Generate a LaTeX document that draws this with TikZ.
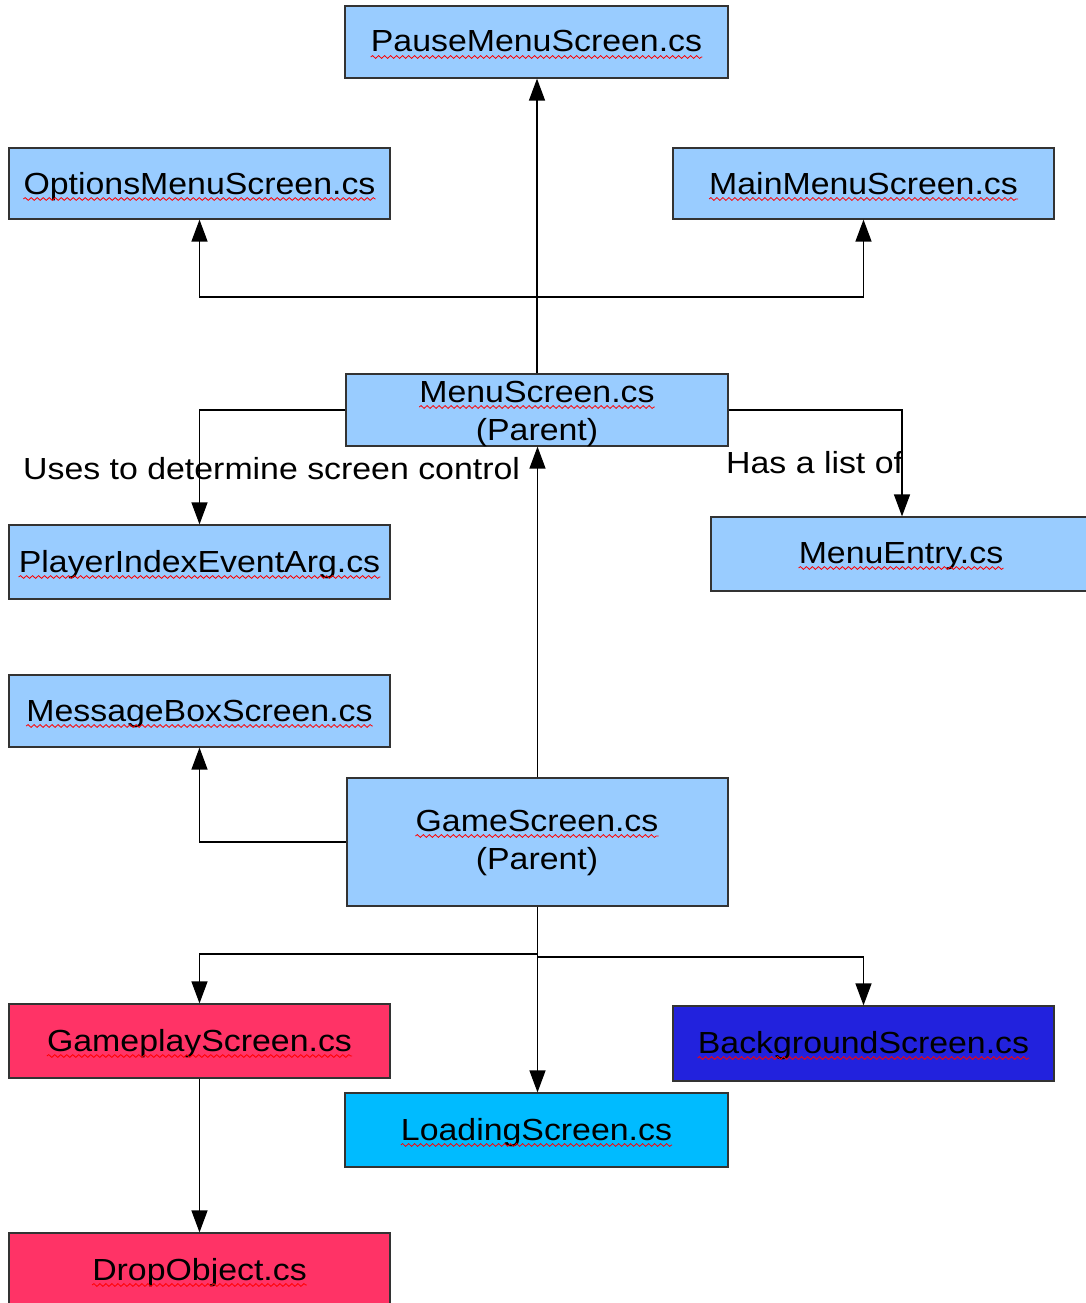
\documentclass[tikz,border=0pt]{standalone}
\usepackage{fontspec}
\setmainfont{Liberation Sans}[FakeStretch=1.11]
\usetikzlibrary{arrows.meta,decorations.pathmorphing}
\definecolor{lblue}{HTML}{99CCFF}
\definecolor{pinkred}{HTML}{FF3366}
\definecolor{dblue}{HTML}{2222DD}
\definecolor{cyanb}{HTML}{00BBFF}
\definecolor{edge}{HTML}{333333}
\tikzset{
  box/.style={draw=edge, line width=1.2pt, inner sep=0pt, fill=lblue},
  txt/.style={inner sep=0pt, anchor=base, font=\fontsize{30.5}{38}\selectfont},
  lbltxt/.style={inner sep=0pt, anchor=base west, font=\fontsize{30.5}{38}\selectfont},
  squig/.style={draw=red, line width=0.8pt, decorate, decoration={snake, segment length=6pt, amplitude=1.4pt}},
  arr/.style={draw=black, line width=1.3pt, -{Triangle[length=22pt,width=16pt]}},
  ln/.style={draw=black, line width=1.3pt}
}
\newcommand{\squnder}[1]{\draw[squig] ([yshift=-5pt]#1.base west) -- ([yshift=-5pt]#1.base east);}
\begin{document}
\begin{tikzpicture}[x=1pt,y=-1pt]
\useasboundingbox (0,0) rectangle (1086,1303);
\clip (0,0) rectangle (1086,1303);
\fill[white] (0,0) rectangle (1086,1303);
% boxes
\node[box, minimum width=383pt, minimum height=72pt] (pm) at (536.5,42) {};
\node[box, minimum width=381pt, minimum height=71pt] (om) at (199.5,183.5) {};
\node[box, minimum width=381pt, minimum height=71pt] (mm) at (863.5,183.5) {};
\node[box, minimum width=382pt, minimum height=72pt] (ms) at (537,410) {};
\node[box, minimum width=381pt, minimum height=74pt] (pi) at (199.5,562) {};
\node[box, minimum width=382pt, minimum height=74pt] (me) at (902,554) {};
\node[box, minimum width=381pt, minimum height=72pt] (mb) at (199.5,711) {};
\node[box, minimum width=381pt, minimum height=128pt] (gs) at (537.5,842) {};
\node[box, fill=pinkred, minimum width=381pt, minimum height=74pt] (gp) at (199.5,1041) {};
\node[box, fill=dblue, minimum width=381pt, minimum height=75pt] (bg) at (863.5,1043.5) {};
\node[box, fill=cyanb, minimum width=383pt, minimum height=74pt] (ls) at (536.5,1130) {};
\node[box, fill=pinkred, minimum width=381pt, minimum height=74pt] (dobj) at (199.5,1270) {};
% texts
\node[txt] (pmT) at (536.5,52) {PauseMenuScreen.cs};
\node[txt] (omT) at (199.5,194) {OptionsMenuScreen.cs};
\node[txt] (mmT) at (863.5,194) {MainMenuScreen.cs};
\node[txt] (msT) at (537,402) {MenuScreen.cs};
\node[txt] (msP) at (537,440) {(Parent)};
\node[txt] (piT) at (199.5,572) {PlayerIndexEventArg.cs};
\node[txt] (meT) at (901,563) {MenuEntry.cs};
\node[txt] (mbT) at (199.5,721) {MessageBoxScreen.cs};
\node[txt] (gsT) at (537,831) {GameScreen.cs};
\node[txt] (gsP) at (537,869) {(Parent)};
\node[txt] (gpT) at (199.5,1051) {GameplayScreen.cs};
\node[txt] (bgT) at (863.5,1053) {BackgroundScreen.cs};
\node[txt] (lsT) at (536.5,1140) {LoadingScreen.cs};
\node[txt] (doT) at (199.5,1280) {DropObject.cs};
\squnder{pmT}\squnder{omT}\squnder{mmT}\squnder{msT}\squnder{piT}\squnder{meT}
\squnder{mbT}\squnder{gsT}\squnder{gpT}\squnder{bgT}\squnder{lsT}\squnder{doT}
% labels
\node[lbltxt] (l1) at (23,479) {Uses to determine screen control};
\node[lbltxt] (l2) at (726,473) {Has a list of};
% junctions
\coordinate (j1) at (537,297);
\coordinate (j2) at (537,954);
\coordinate (j3) at (537,957);
% connectors
\draw[arr] (ms.north) -- (ms.north |- pm.south);
\draw[arr] (j1) -| (om.south);
\draw[arr] (j1) -| (mm.south);
\draw[arr] (ms.west) -| (pi.north);
\draw[arr] (ms.east) -| (me.north);
\draw[arr] (gs.north) -- (gs.north |- ms.south);
\draw[arr] (gs.west) -| (mb.south);
\draw[arr] (gs.south) -- (gs.south |- ls.north);
\draw[arr] (j2) -| (gp.north);
\draw[arr] (j3) -| (bg.north);
\draw[arr] (gp.south) -- (dobj.north);
\end{tikzpicture}
\end{document}
